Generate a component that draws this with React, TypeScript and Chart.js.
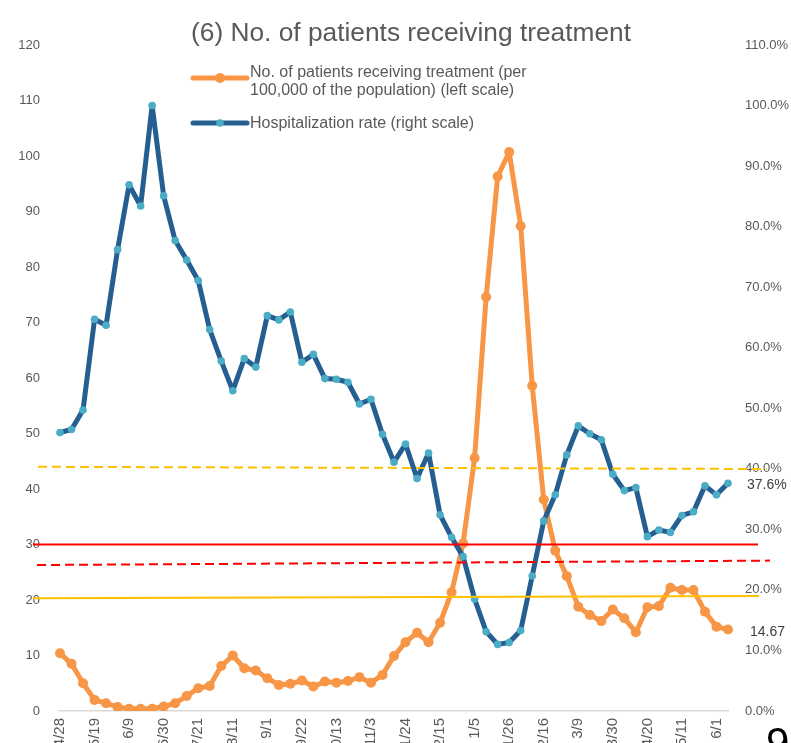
import { useEffect, useRef } from 'react';
import { Chart, registerables } from 'chart.js';

Chart.register(...registerables);

const dates = [
  '4/28', '5/5', '5/12', '5/19', '5/26', '6/2', '6/9', '6/16', '6/23', '6/30',
  '7/7', '7/14', '7/21', '7/28', '8/4', '8/11', '8/18', '8/25', '9/1', '9/8',
  '9/15', '9/22', '9/29', '10/6', '10/13', '10/20', '10/27', '11/3', '11/10', '11/17',
  '11/24', '12/1', '12/8', '12/15', '12/22', '12/29', '1/5', '1/12', '1/19', '1/26',
  '2/2', '2/9', '2/16', '2/23', '3/2', '3/9', '3/16', '3/23', '3/30', '4/6',
  '4/13', '4/20', '4/27', '5/4', '5/11', '5/18', '5/25', '6/1', '6/8',
];

const patientsPer100k = [
  10.4, 8.5, 5.0, 2.0, 1.4, 0.7, 0.4, 0.4, 0.4, 0.8,
  1.4, 2.7, 4.1, 4.5, 8.1, 10.0, 7.7, 7.3, 5.9, 4.7,
  4.9, 5.5, 4.4, 5.3, 5.1, 5.4, 6.1, 5.1, 6.5, 9.9,
  12.4, 14.1, 12.4, 15.9, 21.4, 30.2, 45.6, 74.6, 96.3, 100.7,
  87.4, 58.6, 38.1, 28.9, 24.3, 18.8, 17.3, 16.2, 18.3, 16.7,
  14.2, 18.7, 18.9, 22.2, 21.8, 21.8, 17.9, 15.2, 14.67,
];

const hospitalizationRate = [
  46.0, 46.5, 49.7, 64.7, 63.7, 76.2, 86.9, 83.4, 100.0, 85.1,
  77.7, 74.5, 71.1, 63.0, 57.8, 52.9, 58.2, 56.8, 65.3, 64.6,
  65.9, 57.6, 58.9, 54.9, 54.8, 54.3, 50.7, 51.5, 45.7, 41.1,
  44.1, 38.4, 42.6, 32.4, 28.7, 25.5, 18.5, 13.1, 11.0, 11.3,
  13.3, 22.3, 31.4, 35.7, 42.3, 47.1, 45.8, 44.8, 39.1, 36.4,
  36.9, 28.8, 29.9, 29.5, 32.3, 32.9, 37.2, 35.7, 37.6,
];

const leftAxisRange = [0, 120];
const rightAxisRange = [0, 110];
const axisStep = 10;
const xLabelEvery = 3;

const titleText = '(6) No. of patients receiving treatment';
const legendPatientsLines = ['No. of patients receiving treatment (per', '100,000 of the population) (left scale)'];
const legendHospText = 'Hospitalization rate (right scale)';
const pageNumber = '9';

// reference lines (left-scale values at their left and right ends)
const refLineStartValues = [44.0, 30.0, 26.3, 20.3];
const refLineEndValues = [43.6, 30.0, 27.1, 20.7];
const refLineColors = ['#FFC000', '#FF0000', '#FF0000', '#FFC000'];
const refLineDashed = [true, false, true, false];

const ORANGE = '#F79646';
const BLUE = '#255E91';
const BLUE_MARK = '#4BACC6';
const GRAY = '#595959';
const FONT = '"Liberation Sans", Arial, sans-serif';

const overlayPlugin = {
  id: 'overlay',
  afterDraw(chart: any) {
    const ctx = chart.ctx as CanvasRenderingContext2D;
    const ca = chart.chartArea;
    const yS = chart.scales.y;
    ctx.save();

    // title
    ctx.fillStyle = GRAY;
    ctx.font = `26.3px ${FONT}`;
    ctx.textAlign = 'center';
    ctx.textBaseline = 'alphabetic';
    ctx.fillText(titleText, 411, 41);

    // legend
    const lx0 = ca.left + 133;
    const lx1 = ca.left + 187;
    const drawSample = (y: number, color: string, mark: string, r: number) => {
      ctx.strokeStyle = color;
      ctx.lineWidth = 5;
      ctx.lineCap = 'round';
      ctx.beginPath();
      ctx.moveTo(lx0, y);
      ctx.lineTo(lx1, y);
      ctx.stroke();
      ctx.fillStyle = mark;
      ctx.beginPath();
      ctx.arc((lx0 + lx1) / 2, y, r, 0, Math.PI * 2);
      ctx.fill();
    };
    drawSample(78, ORANGE, ORANGE, 5);
    drawSample(123, BLUE, BLUE_MARK, 3.8);
    ctx.fillStyle = GRAY;
    ctx.font = `16px ${FONT}`;
    ctx.textAlign = 'left';
    ctx.fillText(legendPatientsLines[0], 250, 77);
    ctx.fillText(legendPatientsLines[1], 250, 95);
    ctx.fillText(legendHospText, 250, 128);

    // reference lines
    const startOff = [-22, -27, -23, -27];
    const endOff = [39, 30, 42, 31];
    for (let i = 0; i < refLineStartValues.length; i++) {
      ctx.strokeStyle = refLineColors[i];
      ctx.lineWidth = 2;
      ctx.lineCap = 'butt';
      ctx.setLineDash(refLineDashed[i] ? [9, 5] : []);
      ctx.beginPath();
      ctx.moveTo(ca.left + startOff[i], yS.getPixelForValue(refLineStartValues[i]));
      ctx.lineTo(ca.right + endOff[i], yS.getPixelForValue(refLineEndValues[i]));
      ctx.stroke();
    }
    ctx.setLineDash([]);

    // end-point data labels
    ctx.fillStyle = '#404040';
    ctx.font = `14px ${FONT}`;
    ctx.textBaseline = 'middle';
    const m0 = chart.getDatasetMeta(0);
    const m1 = chart.getDatasetMeta(1);
    const p0 = m0.data[m0.data.length - 1];
    const p1 = m1.data[m1.data.length - 1];
    const lastP = patientsPer100k[patientsPer100k.length - 1];
    const lastH = hospitalizationRate[hospitalizationRate.length - 1];
    ctx.fillText(lastH.toFixed(1) + '%', p1.x + 19, p1.y + 2);
    ctx.fillText(lastP.toFixed(2), p0.x + 22, p0.y + 3);

    // page number (cut off at page edge)
    ctx.fillStyle = '#000000';
    ctx.font = `42px ${FONT}`;
    ctx.textBaseline = 'alphabetic';
    ctx.fillText(pageNumber, 766, 757);

    ctx.restore();
  },
};

export default function App() {
  const ref = useRef<HTMLCanvasElement | null>(null);

  useEffect(() => {
    if (!ref.current) return;
    const chart = new Chart(ref.current, {
      type: 'line',
      data: {
        labels: dates,
        datasets: [
          {
            label: 'No. of patients receiving treatment (per 100,000 of the population) (left scale)',
            data: patientsPer100k,
            yAxisID: 'y',
            borderColor: ORANGE,
            backgroundColor: ORANGE,
            borderWidth: 5,
            borderJoinStyle: 'round',
            borderCapStyle: 'round',
            pointRadius: 5,
            pointBorderWidth: 0,
            pointBackgroundColor: ORANGE,
            tension: 0,
            order: 1,
          },
          {
            label: 'Hospitalization rate (right scale)',
            data: hospitalizationRate,
            yAxisID: 'y1',
            borderColor: BLUE,
            backgroundColor: BLUE_MARK,
            borderWidth: 5,
            borderJoinStyle: 'round',
            borderCapStyle: 'round',
            pointRadius: 3.8,
            pointBorderWidth: 0,
            pointBackgroundColor: BLUE_MARK,
            tension: 0,
            order: 0,
          },
        ],
      },
      options: {
        animation: false,
        responsive: false,
        devicePixelRatio: 1,
        layout: { padding: { top: 45, left: 0, right: 0, bottom: 0 } },
        plugins: { legend: { display: false }, tooltip: { enabled: false }, title: { display: false } },
        scales: {
          x: {
            type: 'category',
            offset: false,
            grid: { display: false, drawTicks: false },
            border: { display: true, color: '#D9D9D9', width: 1.5 },
            ticks: {
              autoSkip: false,
              maxRotation: 90,
              minRotation: 90,
              padding: 7,
              color: GRAY,
              font: { family: FONT, size: 15 },
              callback: (_v: any, i: number) => (i % xLabelEvery === 0 ? dates[i] : ''),
            },
            afterFit: (s: any) => { s.height = 69; },
          },
          y: {
            position: 'left',
            min: leftAxisRange[0],
            max: leftAxisRange[1],
            grid: { display: false, drawTicks: false },
            border: { display: false },
            ticks: { stepSize: axisStep, padding: 20, color: GRAY, font: { family: FONT, size: 13 } },
            afterFit: (s: any) => { s.width = 60; },
          },
          y1: {
            position: 'right',
            min: rightAxisRange[0],
            max: rightAxisRange[1],
            grid: { display: false, drawTicks: false },
            border: { display: false },
            ticks: {
              stepSize: axisStep,
              padding: 17,
              color: GRAY,
              font: { family: FONT, size: 13 },
              callback: (v: any) => Number(v).toFixed(1) + '%',
            },
            afterFit: (s: any) => { s.width = 72; },
          },
        },
      },
      plugins: [overlayPlugin],
    });
    return () => chart.destroy();
  }, []);

  return (
    <div style={{ position: 'fixed', left: 0, top: 0, width: 791, height: 743, overflow: 'hidden', background: '#ffffff' }}>
      <canvas ref={ref} width={800} height={780} style={{ display: 'block', width: 800, height: 780 }} />
    </div>
  );
}
